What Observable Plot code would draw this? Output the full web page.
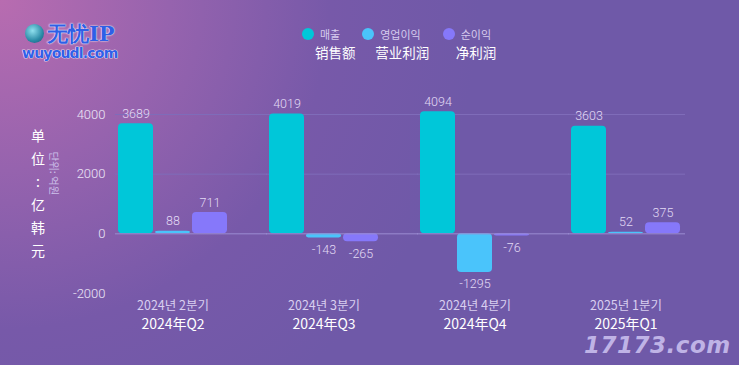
<!DOCTYPE html>
<html>
<head>
<meta charset="utf-8">
<script src="https://cdn.jsdelivr.net/npm/d3@7"></script>
<script src="https://cdn.jsdelivr.net/npm/@observablehq/plot@0.6"></script>
<style>
  html, body { margin: 0; padding: 0; }
  #wrap {
    position: relative; width: 739px; height: 365px; overflow: hidden;
    background: radial-gradient(circle at 0 0, #b86cb0 0px, #9663ae 170px, #7759a9 330px, #6f59a8 480px);
    font-family: "Noto Sans CJK SC", "Noto Sans", sans-serif;
  }
  #chart { position: absolute; left: 0; top: 0; }
  #legend { position: absolute; left: 302px; top: 24px; display: flex; }
  .item { position: relative; margin-right: 22px; }
  .row1 { display: flex; align-items: center; height: 20px; }
  .dot { width: 12px; height: 12px; border-radius: 50%; margin-right: 6px; }
  .ko { font-size: 11px; color: #d6cbee; font-family: "Noto Sans CJK KR", sans-serif; white-space: nowrap; }
  .zh { position: absolute; left: 13px; top: 19px; font-size: 13.5px; color: #ffffff; line-height: 18px; white-space: nowrap; }
  #unitZh { position: absolute; left: 30px; top: 124px; width: 16px; font-size: 14px; color: #fff;
            text-align: center; }
  #unitZh div { height: 23px; line-height: 23px; }
  #unitKo { position: absolute; left: 30px; top: 166px; width: 48px; font-size: 10.5px; color: #cdc0ea;
            transform: rotate(90deg); text-align: center; font-family: "Noto Sans CJK KR", sans-serif; white-space: nowrap; }
  #logo { position: absolute; left: 22px; top: 20px; }
  #logo .globe { position: absolute; left: 3px; top: 4px; width: 19px; height: 19px; border-radius: 50%;
                 background: radial-gradient(circle at 40% 35%, #8fe0ee, #2a8aa6 60%, #1d4f78); }
  #logo .name { position: absolute; left: 25px; top: 0px; font-family: "DejaVu Serif", serif; font-weight: bold;
                font-size: 21px; color: #2f5fe6; white-space: nowrap; text-shadow: 0 0 2px #fff, 0 0 1px #fff; }
  #logo .url { position: absolute; left: 0px; top: 25px; font-family: "DejaVu Sans", sans-serif; font-weight: bold;
               font-size: 14px; color: #3060e8; white-space: nowrap; letter-spacing: -0.8px;
               -webkit-text-stroke: 0.6px #fff; paint-order: stroke fill; text-shadow: 0 0 1px #fff; }
  #wm { position: absolute; left: 584px; top: 332px; font-family: "DejaVu Sans", sans-serif; font-weight: bold;
        font-style: italic; font-size: 23px; color: #bfb3e6; letter-spacing: 0.5px; }
</style>
</head>
<body>
<div id="wrap">
  <div id="logo"><div class="globe"></div><div class="name">无忧IP</div><div class="url">wuyoudl.com</div></div>
  <div id="legend"></div>
  <div id="unitZh"></div>
  <div id="unitKo">단위: 억원</div>
  <div id="wm">17173.com</div>
  <div id="chart"></div>
</div>
<script>
const quarters = ["2024年Q2", "2024年Q3", "2024年Q4", "2025年Q1"];
const quartersKo = ["2024년 2분기", "2024년 3분기", "2024년 4분기", "2025년 1분기"];
const seriesKo = ["매출", "영업이익", "순이익"];
const seriesZh = ["销售额", "营业利润", "净利润"];
const sales = [3689, 4019, 4094, 3603];
const operatingProfit = [88, -143, -1295, 52];
const netProfit = [711, -265, -76, 375];
const yTicks = [-2000, 0, 2000, 4000];
const gridTicks = [2000, 4000];
const unitLabel = "单位：亿韩元";
const colors = ["#00c7d9", "#4ac4fb", "#8678fa"];

const seriesValues = [sales, operatingProfit, netProfit];
const data = [];
quarters.forEach((q, i) => {
  seriesKo.forEach((s, j) => data.push({q, s, v: seriesValues[j][i]}));
});
const koOf = new Map(quarters.map((q, i) => [q, quartersKo[i]]));

// vertical unit label
const uz = document.getElementById("unitZh");
for (const ch of unitLabel) {
  const d = document.createElement("div");
  d.textContent = ch === "：" ? ":" : ch;
  uz.appendChild(d);
}

// legend
const legend = document.getElementById("legend");
seriesKo.forEach((s, j) => {
  const it = document.createElement("div");
  it.className = "item";
  it.innerHTML = `<div class="row1"><div class="dot" style="background:${colors[j]}"></div><span class="ko">${s}</span></div><div class="zh">${seriesZh[j]}</div>`;
  legend.appendChild(it);
});

// rules per facet, extended across the gap to the next facet
const gridRows = [];
const zeroRows = [];
quarters.forEach((q, i) => {
  const last = i === quarters.length - 1;
  gridTicks.forEach(t => gridRows.push({q, y: t, last}));
  zeroRows.push({q, y: 0, last});
});

const numFont = "Roboto, 'DejaVu Sans Condensed', sans-serif";
const ruleMarks = (rows, stroke) => [
  Plot.ruleY(rows.filter(r => !r.last), {fx: "q", y: "y", stroke, strokeWidth: 1, insetRight: -37}),
  Plot.ruleY(rows.filter(r => r.last), {fx: "q", y: "y", stroke, strokeWidth: 1, insetRight: -2})
];

const chart = Plot.plot({
  width: 739,
  height: 365,
  marginLeft: 115,
  marginRight: 56,
  marginTop: 114,
  marginBottom: 72,
  style: {background: "transparent", color: "#e6def5", fontFamily: numFont, overflow: "visible"},
  fx: {domain: quarters, paddingInner: 0.24, paddingOuter: 0},
  x: {domain: seriesKo, padding: 0.05, axis: null},
  y: {domain: [-2000, 4000], axis: null},
  color: {domain: seriesKo, range: colors},
  marks: [
    ...ruleMarks(gridRows, "#7f6cb9"),
    Plot.barY(data, {fx: "q", x: "s", y: "v", fill: "s", rx: 4}),
    ...ruleMarks(zeroRows, "#9c8cd2"),
    Plot.text(data.filter(d => d.v >= 0), {fx: "q", x: "s", y: "v", text: d => String(d.v), dy: -10, fill: "#e2daf4", fontSize: 12.5, fontWeight: 300}),
    Plot.text(data.filter(d => d.v < 0), {fx: "q", x: "s", y: "v", text: d => String(d.v), dy: 12, fill: "#e2daf4", fontSize: 12.5, fontWeight: 300}),
    Plot.axisY({ticks: yTicks, tickSize: 0, tickPadding: 10, fontSize: 13, fill: "#ece6f7", tickFormat: d => String(d), fontWeight: 300}),
    Plot.axisFx({anchor: "bottom", tickSize: 0, tickPadding: 8, fontSize: 12.5, fill: "#d9cff0", tickFormat: d => koOf.get(d), fontFamily: "'Noto Sans CJK KR', sans-serif", label: null}),
    Plot.axisFx({anchor: "bottom", tickSize: 0, tickPadding: 26, fontSize: 14, fill: "#ffffff", tickFormat: d => d, fontFamily: "'Noto Sans CJK SC', sans-serif", label: null})
  ]
});
document.getElementById("chart").appendChild(chart);
</script>
</body>
</html>
